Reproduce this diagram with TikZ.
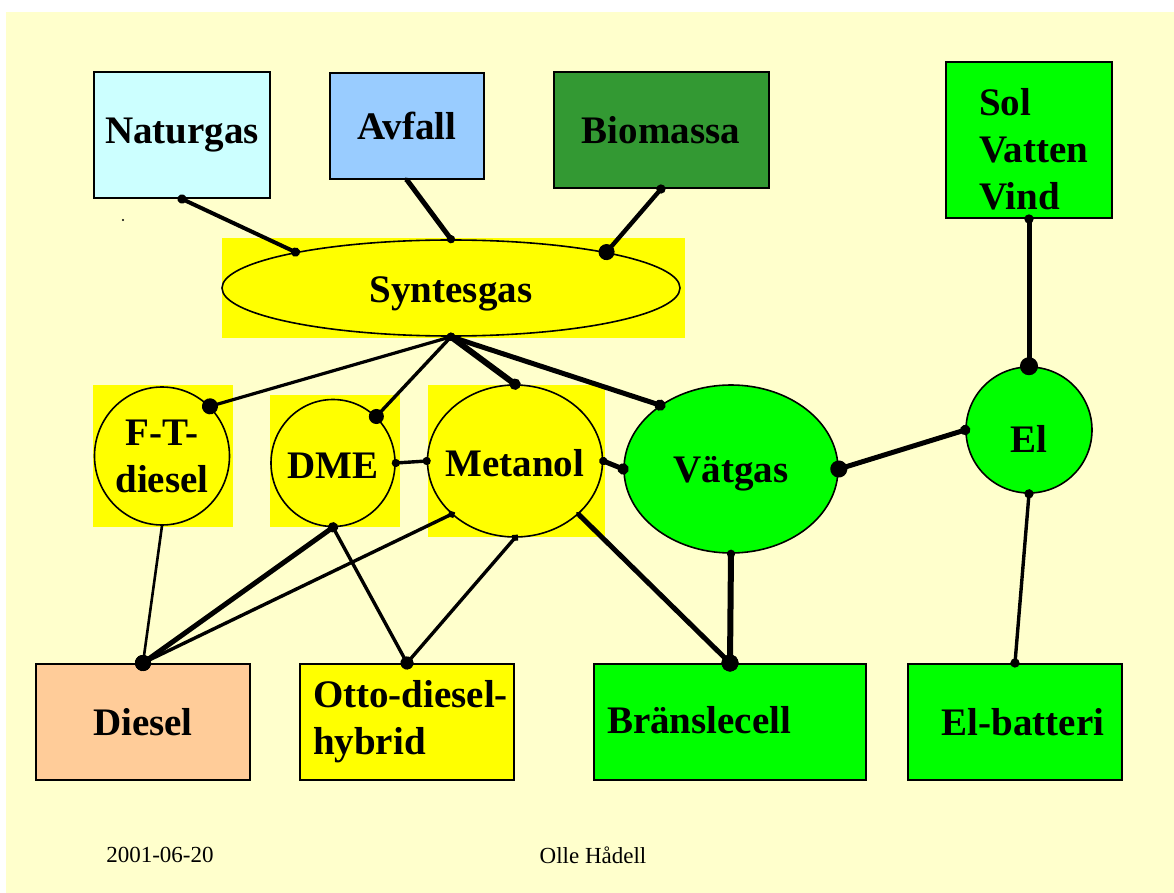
\documentclass[tikz,border=0pt]{standalone}
\usepackage{fontspec}
\setmainfont{Liberation Serif}
\usepackage{tikz}
\usetikzlibrary{arrows.meta, shapes.geometric, positioning}

\definecolor{paper}{HTML}{FFFFCC}
\definecolor{gasblue}{HTML}{CCFFFF}
\definecolor{wasteblue}{HTML}{99CCFF}
\definecolor{biogreen}{HTML}{339933}
\definecolor{brightgreen}{HTML}{00FF00}
\definecolor{fuelyellow}{HTML}{FFFF00}
\definecolor{dieselorange}{HTML}{FFCC99}

\newcommand{\bigfont}{\fontsize{19.5}{23.5}\selectfont\bfseries}

\begin{document}
\begin{tikzpicture}[x=0.5pt, y=-0.5pt, line cap=round]
    \tikzstyle{box} = [rectangle, draw=black, line width=1pt, inner sep=0pt, font=\bigfont, align=center]
    \tikzstyle{fuel} = [ellipse, draw=black, line width=0.8pt, inner sep=0pt]
    \tikzstyle{lbl} = [font=\bigfont, align=center, inner sep=0pt]
    \tikzset{ends/.style 2 args={{Circle[length=#1]}-{Circle[length=#2]}, shorten <=-0.5*#1, shorten >=-0.5*#2}}

    % page
    \useasboundingbox (0,0) rectangle (1174,893);
    \fill[white] (0,0) rectangle (1174,893);
    \fill[paper] (6,12) rectangle (1174,893);

    % yellow backdrops
    \fill[fuelyellow] (222,238) rectangle (685,338);
    \fill[fuelyellow] (93,385) rectangle (233,527);
    \fill[fuelyellow] (270,395) rectangle (400,527);
    \fill[fuelyellow] (428,385) rectangle (605,537);

    % sources
    \node [box, fill=gasblue, minimum width=88pt, minimum height=63pt] (naturgas) at (182,135) {Naturgas};
    \node [box, fill=wasteblue, minimum width=77pt, minimum height=53pt] (avfall) at (407,126) {Avfall};
    \node [box, fill=biogreen, minimum width=107.5pt, minimum height=58pt] (biomassa) at (661,130) {Biomassa};
    \node [box, fill=brightgreen, minimum width=83pt, minimum height=78pt, text width=50pt, inner xsep=16.5pt, align=left] (sol) at (1029,140) {\rule{0pt}{23pt}Sol\\Vatten\\Vind};

    % carriers
    \node [fuel, fill=fuelyellow, minimum width=229pt, minimum height=48pt, label={[lbl, yshift=-3pt]center:Syntesgas}] (syn) at (451,288) {};
    \node [fuel, fill=fuelyellow, minimum width=67.5pt, minimum height=69pt, label={[lbl]center:{F-T-\\diesel}}] (ft) at (162,456) {};
    \node [fuel, fill=fuelyellow, minimum width=62pt, minimum height=63.5pt, label={[lbl, yshift=-1.5pt]center:DME}] (dme) at (333,463) {};
    \node [fuel, fill=fuelyellow, minimum width=87.5pt, minimum height=76pt, label={[lbl, yshift=-1pt]center:Metanol}] (met) at (515,461) {};
    \node [fuel, fill=brightgreen, minimum width=107pt, minimum height=84pt, label={[lbl, yshift=-2.5pt]center:Vätgas}] (vat) at (731,469) {};
    \node [fuel, fill=brightgreen, minimum width=63pt, minimum height=63pt, label={[lbl, yshift=-4.5pt]center:El}] (el) at (1029,430) {};

    % users
    \node [box, fill=dieselorange, minimum width=107pt, minimum height=58pt] (diesel) at (143,722) {Diesel};
    \node [box, fill=fuelyellow, minimum width=107pt, minimum height=58pt, text width=94pt, inner xsep=6.5pt, align=left] (otto) at (407,722) {\mbox{Otto-diesel-}\\hybrid};
    \node [box, fill=brightgreen, minimum width=136pt, minimum height=58pt, text width=123pt, inner xsep=6.5pt, align=left] (bransle) at (730,722) {\raisebox{2pt}{Bränslecell}};
    \node [box, fill=brightgreen, minimum width=107pt, minimum height=58pt] (elbat) at (1015,722) {\hspace*{8pt}El-batteri};

    % sources -> syntesgas
    \draw [line width=2pt, ends={4.5pt}{4.5pt}] (naturgas.south) -- (syn.167);
    \draw [line width=2.5pt, ends={2.5pt}{4pt}] (avfall.south) -- (syn.north);
    \draw [line width=2.2pt, ends={4.5pt}{8pt}] (biomassa.south) -- (syn.13);
    \draw [line width=2.5pt, ends={4.5pt}{9pt}] (sol.south) -- (el.north);

    % syntesgas -> carriers
    \draw [line width=1.6pt, ends={4pt}{8pt}] (syn.south) -- (ft.46);
    \draw [line width=1.7pt, ends={4pt}{7.5pt}] (syn.south) -- (dme.47);
    \draw [line width=3pt, ends={4pt}{5.5pt}] (syn.south) -- (met.north);
    \draw [line width=2.5pt, ends={4pt}{5.5pt}] (syn.south) -- (vat.138);
    \draw [line width=1.7pt, ends={4pt}{4pt}] (dme.east) -- (met.west);
    \draw [line width=2.5pt, ends={4pt}{5.5pt}] (met.east) -- (vat.west);
    \draw [line width=2.5pt, ends={8.5pt}{5pt}] (vat.east) -- (el.west);

    % carriers -> users
    \draw [line width=1.3pt, ends={1.3pt}{8pt}] (ft.south) -- (diesel.north);
    \draw [line width=2.5pt, ends={5pt}{8pt}] (dme.south) -- (diesel.north);
    \draw [line width=1.7pt, ends={3.5pt}{8pt}] (met.220) -- (diesel.north);
    \draw [line width=1.7pt, ends={4pt}{6.5pt}] (dme.south) -- (otto.north);
    \draw [line width=1.7pt, ends={3.5pt}{6.5pt}] (met.south) -- (otto.north);
    \draw [line width=2.5pt, ends={2.5pt}{8.5pt}] (met.320) -- (bransle.north);
    \draw [line width=3pt, ends={4pt}{8.5pt}] (vat.south) -- (bransle.north);
    \draw [line width=1.7pt, ends={4.5pt}{4.5pt}] (el.south) -- (elbat.north);

    % stray mark and footer
    \fill (123,220) circle (0.6pt);
    \node [font=\fontsize{11.5}{14}\selectfont] (date) at (160,855) {2001-06-20};
    \node [font=\fontsize{11.5}{14}\selectfont] (author) at (593,855) {Olle Hådell};
\end{tikzpicture}
\end{document}
